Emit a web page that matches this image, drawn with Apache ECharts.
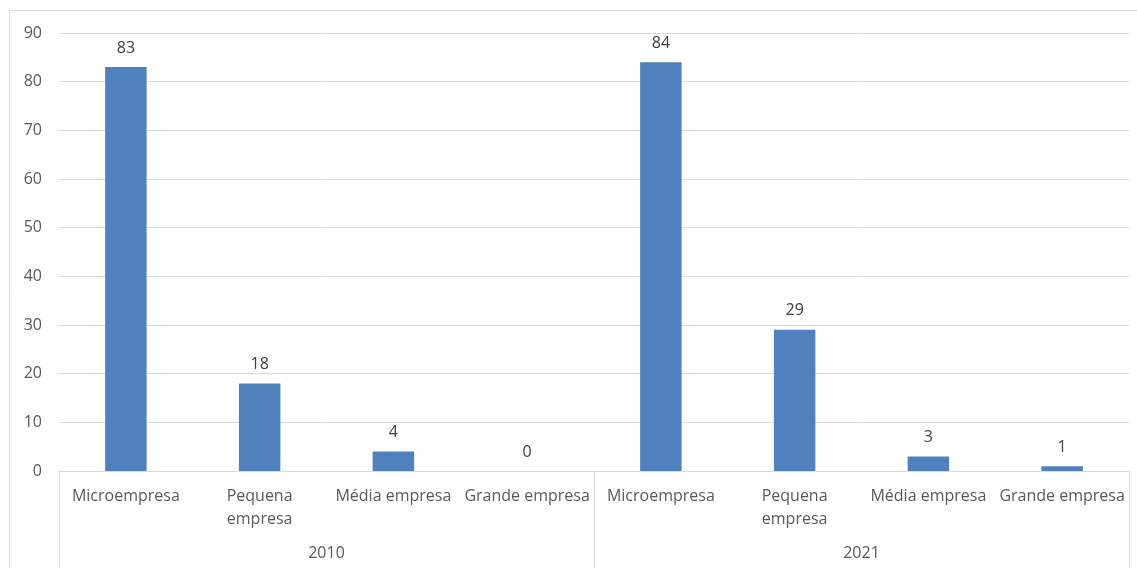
<!DOCTYPE html>
<html>
<head>
<meta charset="utf-8">
<script src="https://cdn.jsdelivr.net/npm/echarts@6/dist/echarts.min.js"></script>
<style>
  html, body { margin: 0; padding: 0; background: #fff; }
  #chart { width: 1137px; height: 568px; }
</style>
</head>
<body>
<div id="chart"></div>
<script>
// Company-size categories, repeated for each year group
const categories = [
  'Microempresa', 'Pequena empresa', 'Média empresa', 'Grande empresa',
  'Microempresa', 'Pequena empresa', 'Média empresa', 'Grande empresa'
];
const years = ['2010', '2021'];
const values = [83, 18, 4, 0, 84, 29, 3, 1];
const yTicks = { min: 0, max: 90, interval: 10 };

const textColor = '#595959';
const lineColor = '#d9d9d9';
const fontFamily = 'Open Sans, Noto Sans, sans-serif';
const fontSize = 16;

const chart = echarts.init(document.getElementById('chart'));
chart.setOption({
  animation: false,
  graphic: [{
    type: 'rect',
    shape: { x: 9.5, y: 10.5, width: 1140, height: 570 },
    style: { fill: 'none', stroke: lineColor, lineWidth: 1 },
    silent: true
  }],
  grid: { left: 59, right: 8, top: 33, bottom: 97 },
  xAxis: [{
    type: 'category',
    data: categories,
    axisLine: { lineStyle: { color: lineColor, width: 1 } },
    axisTick: { show: false },
    axisLabel: {
      color: textColor,
      fontFamily: fontFamily,
      fontSize: fontSize,
      margin: 14,
      interval: 0,
      lineHeight: 23,
      formatter: v => v === 'Pequena empresa' ? 'Pequena\nempresa' : v
    }
  }, {
    type: 'category',
    data: years,
    position: 'bottom',
    axisLine: { show: false },
    axisTick: { show: true, length: 97, lineStyle: { color: lineColor, width: 1 } },
    axisLabel: {
      color: textColor,
      fontFamily: fontFamily,
      fontSize: fontSize,
      margin: 74,
      interval: 0
    }
  }],
  yAxis: {
    type: 'value',
    min: yTicks.min,
    max: yTicks.max,
    interval: yTicks.interval,
    axisLine: { show: false },
    axisTick: { show: false },
    splitLine: { lineStyle: { color: lineColor, width: 1 } },
    axisLabel: {
      color: textColor,
      fontFamily: fontFamily,
      fontSize: fontSize,
      margin: 17
    }
  },
  series: [{
    type: 'bar',
    data: values,
    xAxisIndex: 0,
    barWidth: '31%',
    itemStyle: { color: '#4f81bd' },
    label: {
      show: true,
      position: 'top',
      distance: 11,
      color: '#404040',
      fontFamily: fontFamily,
      fontSize: fontSize
    }
  }]
});
</script>
</body>
</html>
